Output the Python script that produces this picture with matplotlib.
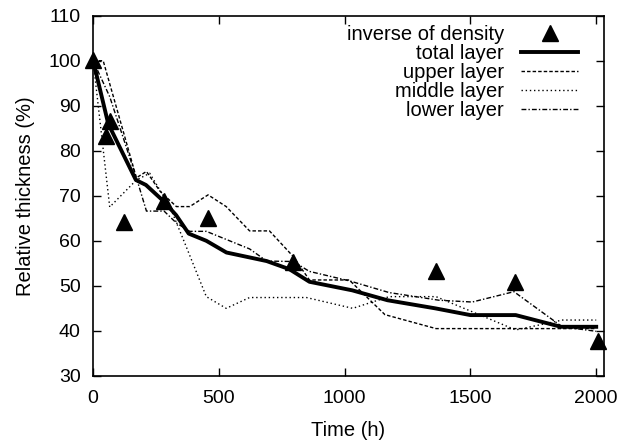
import matplotlib
matplotlib.use("Agg")
import matplotlib.pyplot as plt

plt.rcParams['font.family'] = ['Liberation Sans', 'DejaVu Sans']
plt.rcParams['font.size'] = 14

# ---------------- data ----------------
density_t = [0, 53, 66, 123, 282, 456, 794, 1363, 1676, 2007]
density_v = [100.2, 83.3, 86.7, 64.2, 68.8, 65.0, 55.3, 53.3, 50.9, 37.8]

total_t = [0, 60, 170, 210, 280, 330, 380, 450, 530, 690, 780, 860, 1030, 1170, 1360, 1500, 1680, 1860, 2000]
total_v = [100, 86, 73.5, 72.4, 68.8, 65.7, 61.6, 60.0, 57.4, 55.5, 53.7, 50.9, 49.0, 46.8, 45.0, 43.5, 43.5, 40.9, 40.9]

upper_t = [0, 40, 172, 212, 266, 331, 384, 457, 529, 622, 701, 794, 860, 1018, 1160, 1363, 1680, 1860, 2000]
upper_v = [100, 100, 74.0, 75.4, 71.0, 67.6, 67.6, 70.2, 67.6, 62.2, 62.2, 56.6, 51.3, 51.3, 43.6, 40.5, 40.5, 40.5, 40.5]

middle_t = [0, 66, 172, 225, 305, 365, 450, 529, 622, 848, 1032, 1177, 1363, 1680, 1866, 2000]
middle_v = [100, 67.5, 73.5, 75.0, 67.6, 59.4, 47.6, 45.0, 47.4, 47.4, 45.0, 47.6, 47.6, 40.2, 42.4, 42.4]

lower_t = [0, 66, 172, 212, 282, 330, 384, 450, 622, 690, 795, 860, 1019, 1177, 1375, 1507, 1673, 1865, 2000]
lower_v = [100, 92, 74.0, 66.6, 66.6, 64.0, 62.1, 62.1, 58.2, 55.5, 55.4, 53.2, 51.1, 48.5, 46.8, 46.4, 48.7, 40.9, 39.9]

# ---------------- plot ----------------
fig = plt.figure(figsize=(6.25, 4.48), dpi=100)
ax = fig.add_axes([0.149, 0.161, 0.817, 0.804])

ax.plot(density_t, density_v, linestyle='none', marker='^', color='black',
        markersize=11, label='inverse of density', zorder=5, clip_on=False)
ax.plot(total_t, total_v, color='black', lw=2.8, label='total layer')
ax.plot(upper_t, upper_v, color='black', lw=1.0, linestyle=(0, (2.5, 1.5)), label='upper layer')
ax.plot(middle_t, middle_v, color='black', lw=1.0, linestyle=(0, (1, 2)), label='middle layer')
ax.plot(lower_t, lower_v, color='black', lw=1.0, linestyle=(0, (3.5, 1.5, 1, 1.5)), label='lower layer')

ax.set_xlim(0, 2030)
ax.set_ylim(30, 110)
ax.set_xticks([0, 500, 1000, 1500, 2000])
ax.set_yticks(range(30, 111, 10))
ax.tick_params(axis='x', direction='in', top=True, length=6, width=1, labelsize=14, pad=10)
ax.tick_params(axis='y', direction='in', right=True, length=6, width=1, labelsize=14, pad=9)
for s in ax.spines.values():
    s.set_linewidth(1.2)

ax.set_xlabel('Time (h)', fontsize=14.5, labelpad=10)
ax.set_ylabel('Relative thickness (%)', fontsize=14.5, labelpad=9)

ax.legend(loc='upper right', bbox_to_anchor=(0.949, 0.975), frameon=False, markerfirst=False,
          handlelength=2.8, fontsize=14.5, labelspacing=0.0, borderpad=0, borderaxespad=0,
          handletextpad=0.85)

fig.savefig('out.png', dpi=100)
